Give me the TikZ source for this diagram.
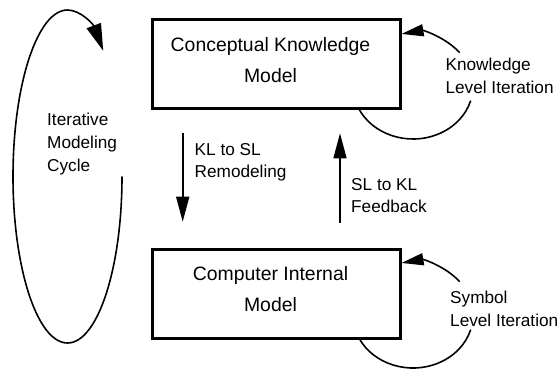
\documentclass[tikz,border=0pt]{standalone}
\usepackage{fontspec}
\setmainfont{Liberation Sans}
\usetikzlibrary{arrows.meta}
\begin{document}
\begin{tikzpicture}[x=1pt,y=1pt,
  modelbox/.style={draw, line width=3pt, outer sep=0pt, inner sep=0pt,
    minimum width=248pt},
  boxtext/.style={font=\fontsize{19.4pt}{31pt}\selectfont, align=center, inner sep=0pt},
  note/.style={font=\fontsize{17.2pt}{22.7pt}\selectfont, align=left, inner sep=0pt,
    anchor=north west},
  flow/.style={line width=1.6pt, -{Triangle[length=25pt,width=13pt]}},
  loopline/.style={line width=1.6pt},
  loophead/.style={line width=1.6pt, -{Triangle[length=22pt,width=12pt]}},
  cyclehead/.style={line width=1.6pt, -{Triangle[length=27pt,width=15pt]}},
]
\useasboundingbox (0,0) rectangle (559,-369);

% the two model boxes
\node[modelbox, minimum height=88pt] (kb) at (276,-64) {};
\node[modelbox, minimum height=89pt] (sb) at (276,-293.5) {};
\node[boxtext] (kbt) at ([xshift=-5.5pt,yshift=4.1pt]kb.center) {Conceptual Knowledge\\Model};
\node[boxtext] (sbt) at ([xshift=-5.5pt,yshift=4.7pt]sb.center) {Computer Internal\\Model};

% transitions between the levels
\draw[flow] ([xshift=-93.3pt,yshift=-24.7pt]kb.south) -- ([xshift=-93.3pt,yshift=27.3pt]sb.north);
\draw[flow] ([xshift=64pt,yshift=26pt]sb.north) -- ([xshift=64pt,yshift=-25.3pt]kb.south);
\node[note] (ksl) at (194.5,-143) {KL to SL\\Remodeling};
\node[note] (skl) at (351,-178) {SL to KL\\Feedback};

% knowledge level loop (broken around its label)
\coordinate (kc) at ([xshift=13pt,yshift=22pt]kb.south east);
\draw[loopline] (kc) ++(204.5:60pt and 53pt)
  arc[start angle=204.5, end angle=344, x radius=60pt, y radius=53pt];
\draw[loophead] (kc) ++(39:60pt and 53pt)
  arc[start angle=39, end angle=101, x radius=60pt, y radius=53pt];
\node[note] (kll) at (445.4,-58) {Knowledge\\Level Iteration};

% symbol level loop (broken around its label)
\coordinate (sc) at ([xshift=13pt,yshift=23pt]sb.south east);
\draw[loopline] (sc) ++(205.7:60pt and 53pt)
  arc[start angle=205.7, end angle=344, x radius=60pt, y radius=53pt];
\draw[loophead] (sc) ++(39:60pt and 53pt)
  arc[start angle=39, end angle=101, x radius=60pt, y radius=53pt];
\node[note] (sll) at (450,-290.8) {Symbol\\Level Iteration};

% overall iterative cycle
\coordinate (cc) at (67.5,-176.5);
\draw[cyclehead] (cc) ++(0:54.5pt and 166.5pt)
  arc[start angle=0, end angle=-311, x radius=54.5pt, y radius=166.5pt];
\node[note] (cyl) at (47,-113) {Iterative\\Modeling\\Cycle};
\end{tikzpicture}
\end{document}
